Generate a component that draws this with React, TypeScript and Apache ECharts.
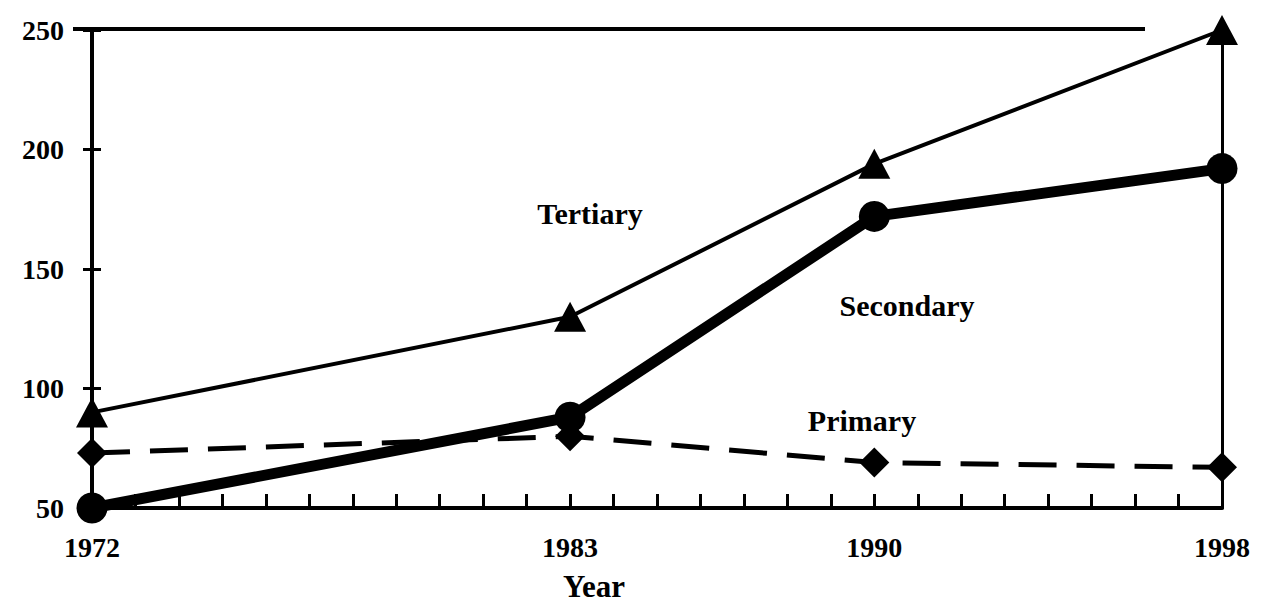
import React, { useEffect, useRef } from "react";
import * as echarts from "echarts";

const years = [1972, 1983, 1990, 1998];
const labeledYears = [1972, 1983, 1990, 1998];
const tertiary = [90, 130, 194, 250];
const secondary = [50, 88, 172, 192];
const primary = [73, 80, 69, 67];
const yMin = 50;
const yMax = 250;
const yStep = 50;
const seriesNames = ["Tertiary", "Secondary", "Primary"];
const xTitle = "Year";

const FONT = "Liberation Serif";

export default function App() {
  const ref = useRef<HTMLDivElement>(null);
  useEffect(() => {
    document.body.style.margin = "0";
    if (!ref.current) return;
    const chart = echarts.init(ref.current, undefined, { renderer: "svg" });
    const pairs = (vals: number[]) => years.map((y, i) => [y, vals[i]]);
    const textStyle = {
      fontFamily: FONT,
      fontWeight: "bold" as const,
      fontSize: 30,
      fill: "#000",
    };
    chart.setOption({
      animation: false,
      backgroundColor: "#fff",
      grid: { left: 92, right: 43, top: 30, bottom: 96 },
      xAxis: {
        type: "value",
        min: 1972,
        max: 1998,
        interval: 1,
        splitLine: { show: false },
        axisLine: { show: true, onZero: false, lineStyle: { color: "#000", width: 4 } },
        axisTick: { show: true, inside: true, length: 14, lineStyle: { color: "#000", width: 3 } },
        axisLabel: {
          margin: 25,
          color: "#000",
          fontFamily: FONT,
          fontWeight: "bold",
          fontSize: 28,
          formatter: (v: number) => (labeledYears.includes(v) ? String(v) : ""),
        },
      },
      yAxis: [
        {
          type: "value",
          min: yMin,
          max: yMax,
          interval: yStep,
          splitLine: { show: false },
          axisLine: { show: true, lineStyle: { color: "#000", width: 4 } },
          axisTick: { show: true, length: 9, lineStyle: { color: "#000", width: 3 } },
          axisLabel: {
            margin: 28,
            color: "#000",
            fontFamily: FONT,
            fontWeight: "bold",
            fontSize: 28,
          },
        },
        {
          type: "value",
          min: yMin,
          max: yMax,
          interval: yStep,
          position: "left",
          splitLine: { show: false },
          axisLine: { show: false },
          axisTick: { show: true, inside: true, length: 9, lineStyle: { color: "#000", width: 3 } },
          axisLabel: { show: false },
        },
        {
          type: "value",
          min: yMin,
          max: yMax,
          interval: yStep,
          position: "right",
          splitLine: { show: false },
          axisLine: { show: true, lineStyle: { color: "#000", width: 3 } },
          axisTick: { show: false },
          axisLabel: { show: false },
        },
      ],
      series: [
        {
          name: seriesNames[0],
          type: "line",
          data: pairs(tertiary),
          symbol: "triangle",
          symbolSize: [32, 30],
          lineStyle: { color: "#000", width: 4 },
          itemStyle: { color: "#000" },
          z: 3,
        },
        {
          name: seriesNames[2],
          type: "line",
          data: pairs(primary),
          symbol: "diamond",
          symbolSize: [30, 30],
          lineStyle: { color: "#000", width: 5, type: [38, 20] },
          itemStyle: { color: "#000" },
          z: 3,
        },
        {
          name: seriesNames[1],
          type: "line",
          data: pairs(secondary),
          symbol: "circle",
          symbolSize: 31,
          lineStyle: { color: "#000", width: 11 },
          itemStyle: { color: "#000" },
          z: 4,
        },
      ],
      graphic: [
        {
          type: "line",
          shape: { x1: 73, y1: 29, x2: 1145, y2: 29 },
          style: { stroke: "#000", lineWidth: 4 },
        },
        {
          type: "text",
          x: 590,
          y: 213,
          style: { ...textStyle, text: seriesNames[0], align: "center", verticalAlign: "middle" },
        },
        {
          type: "text",
          x: 907,
          y: 305,
          style: { ...textStyle, text: seriesNames[1], align: "center", verticalAlign: "middle" },
        },
        {
          type: "text",
          x: 862,
          y: 420,
          style: { ...textStyle, text: seriesNames[2], align: "center", verticalAlign: "middle" },
        },
        {
          type: "text",
          x: 594,
          y: 586,
          style: { ...textStyle, fontSize: 31, text: xTitle, align: "center", verticalAlign: "middle" },
        },
      ],
    });
    return () => chart.dispose();
  }, []);
  return <div ref={ref} style={{ width: 1265, height: 604 }} />;
}
